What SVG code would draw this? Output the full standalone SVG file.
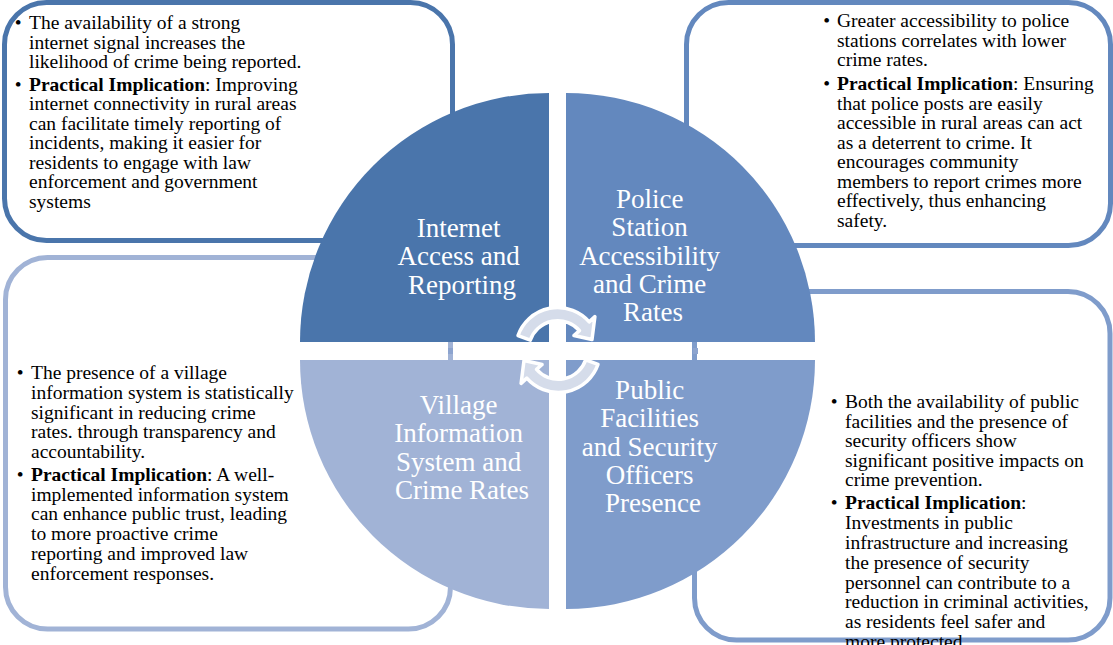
<svg xmlns="http://www.w3.org/2000/svg" width="1113" height="645" viewBox="0 0 1113 645">
  <style>
    .box { fill: #ffffff; stroke-width: 5; }
    .body { font-family: "Liberation Serif", "Times New Roman", serif; font-size: 19.5px; fill: #000000; }
    .body .b { font-weight: bold; }
    .bullet { text-anchor: middle; }
    .label { font-family: "Liberation Serif", "Times New Roman", serif; font-size: 27px; fill: #ffffff; text-anchor: middle; }
    .arrow { fill: #D5DCEA; stroke: #ffffff; stroke-width: 3.5; stroke-linejoin: round; }
    .mark { fill: #8DA4CF; }
  </style>
  <defs>
    <!-- curved arrow around the centre of the quadrant circle -->
    <path id="curl" class="arrow" d="M530.3,340.1 L518,335.6 A42,42 0 0 1 589.2,321.9 L594.9,316.6 L592,339.5 L573.9,335.5 L579.5,330.6 A29,29 0 0 0 530.3,340.1 Z"/>
  </defs>

  <!-- detail boxes -->
  <g id="box-internet">
    <rect class="box" x="4.5" y="2.5" width="448" height="238" rx="42" stroke="#4A75AB"/>
    <text class="body">
      <tspan class="bullet" x="20.5" y="29.3">•</tspan>
      <tspan x="29" y="29.3">The availability of a strong</tspan>
      <tspan x="29" y="48.8">internet signal increases the</tspan>
      <tspan x="29" y="68.3">likelihood of crime being reported.</tspan>
      <tspan class="bullet" x="20.5" y="90.7">•</tspan>
      <tspan x="29" y="90.7"><tspan class="b">Practical Implication</tspan>: Improving</tspan>
      <tspan x="29" y="110.2">internet connectivity in rural areas</tspan>
      <tspan x="29" y="129.7">can facilitate timely reporting of</tspan>
      <tspan x="29" y="149.2">incidents, making it easier for</tspan>
      <tspan x="29" y="168.7">residents to engage with law</tspan>
      <tspan x="29" y="188.2">enforcement and government</tspan>
      <tspan x="29" y="207.7">systems</tspan>
    </text>
  </g>

  <g id="box-police">
    <rect class="box" x="686.5" y="2.5" width="424" height="243" rx="42" stroke="#6388BE"/>
    <text class="body">
      <tspan class="bullet" x="829" y="27">•</tspan>
      <tspan x="837" y="27">Greater accessibility to police</tspan>
      <tspan x="837" y="46.5">stations correlates with lower</tspan>
      <tspan x="837" y="66">crime rates.</tspan>
      <tspan class="bullet" x="829" y="90">•</tspan>
      <tspan x="837" y="90"><tspan class="b">Practical Implication</tspan>: Ensuring</tspan>
      <tspan x="837" y="109.5">that police posts are easily</tspan>
      <tspan x="837" y="129">accessible in rural areas can act</tspan>
      <tspan x="837" y="148.5">as a deterrent to crime. It</tspan>
      <tspan x="837" y="168">encourages community</tspan>
      <tspan x="837" y="187.5">members to report crimes more</tspan>
      <tspan x="837" y="207">effectively, thus enhancing</tspan>
      <tspan x="837" y="226.5">safety.</tspan>
    </text>
  </g>

  <g id="box-village">
    <rect class="box" x="5.5" y="257.5" width="445" height="371.5" rx="42" stroke="#A1B3D6"/>
    <text class="body">
      <tspan class="bullet" x="22.7" y="379.3">•</tspan>
      <tspan x="31" y="379.3">The presence of a village</tspan>
      <tspan x="31" y="399">information system is statistically</tspan>
      <tspan x="31" y="418.7">significant in reducing crime</tspan>
      <tspan x="31" y="438.4">rates. through transparency and</tspan>
      <tspan x="31" y="458.1">accountability.</tspan>
      <tspan class="bullet" x="22.7" y="480.7">•</tspan>
      <tspan x="31" y="480.7"><tspan class="b">Practical Implication</tspan>: A well-</tspan>
      <tspan x="31" y="500.5">implemented information system</tspan>
      <tspan x="31" y="520.3">can enhance public trust, leading</tspan>
      <tspan x="31" y="540.1">to more proactive crime</tspan>
      <tspan x="31" y="559.9">reporting and improved law</tspan>
      <tspan x="31" y="579.7">enforcement responses.</tspan>
    </text>
  </g>

  <g id="box-facilities">
    <rect class="box" x="694.5" y="291.5" width="415.5" height="348.5" rx="42" stroke="#7F9CCB"/>
    <text class="body">
      <tspan class="bullet" x="836.7" y="408.3">•</tspan>
      <tspan x="845" y="408.3">Both the availability of public</tspan>
      <tspan x="845" y="427.7">facilities and the presence of</tspan>
      <tspan x="845" y="447.2">security officers show</tspan>
      <tspan x="845" y="466.6">significant positive impacts on</tspan>
      <tspan x="845" y="486">crime prevention.</tspan>
      <tspan class="bullet" x="836.7" y="509">•</tspan>
      <tspan x="845" y="509"><tspan class="b">Practical Implication</tspan>:</tspan>
      <tspan x="845" y="529">Investments in public</tspan>
      <tspan x="845" y="549">infrastructure and increasing</tspan>
      <tspan x="845" y="568.9">the presence of security</tspan>
      <tspan x="845" y="588.6">personnel can contribute to a</tspan>
      <tspan x="845" y="608.4">reduction in criminal activities,</tspan>
      <tspan x="845" y="628.3">as residents feel safer and</tspan>
      <tspan x="845" y="648.1">more protected.</tspan>
    </text>
  </g>

  <!-- quadrant circle -->
  <g id="q-internet">
    <path d="M549,342 L300,342 A249,249 0 0 1 549,93 Z" fill="#4A75AB"/>
    <text class="label">
      <tspan x="462" y="237">Internet</tspan>
      <tspan x="462" y="265.3">Access and</tspan>
      <tspan x="462" y="293.6">Reporting</tspan>
    </text>
  </g>
  <g id="q-police">
    <path d="M566,342 L566,93 A249,249 0 0 1 815,342 Z" fill="#6388BE"/>
    <text class="label">
      <tspan x="653" y="208">Police</tspan>
      <tspan x="653" y="236.3">Station</tspan>
      <tspan x="653" y="264.6">Accessibility</tspan>
      <tspan x="653" y="292.9">and Crime</tspan>
      <tspan x="653" y="321.2">Rates</tspan>
    </text>
  </g>
  <g id="q-facilities">
    <path d="M566,360 L815,360 A249,249 0 0 1 566,609 Z" fill="#7F9CCB"/>
    <text class="label">
      <tspan x="653" y="399">Public</tspan>
      <tspan x="653" y="427.3">Facilities</tspan>
      <tspan x="653" y="455.6">and Security</tspan>
      <tspan x="653" y="483.9">Officers</tspan>
      <tspan x="653" y="512.2">Presence</tspan>
    </text>
  </g>
  <g id="q-village">
    <path d="M549,360 L549,609 A249,249 0 0 1 300,360 Z" fill="#A1B3D6"/>
    <text class="label">
      <tspan x="462" y="414">Village</tspan>
      <tspan x="462" y="442.3">Information</tspan>
      <tspan x="462" y="470.6">System and</tspan>
      <tspan x="462" y="498.9">Crime Rates</tspan>
    </text>
  </g>

  <!-- cycle arrows and small markers -->
  <g id="connectors">
    <use href="#curl"/>
    <use href="#curl" transform="rotate(180 558 350)"/>
    <rect class="mark" x="448" y="348" width="5" height="6"/>
    <rect class="mark" x="693" y="348" width="5" height="6"/>
  </g>
</svg>
